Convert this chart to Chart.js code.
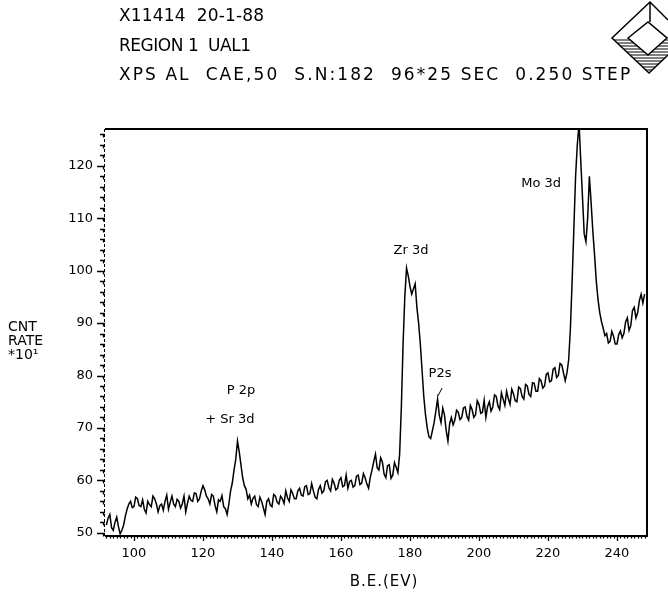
<!DOCTYPE html>
<html><head><meta charset="utf-8">
<script src="https://cdn.jsdelivr.net/npm/chart.js@4/dist/chart.umd.min.js"></script>
<style>html,body{margin:0;padding:0;background:#fff}canvas{display:block}</style>
</head><body>
<canvas id="c" width="668" height="594" style="width:668px;height:594px"></canvas>
<script>
// ---- data ----
const E_START = 92, E_STEP = 0.5;        // binding energy grid (eV)
const counts = [                          // count rate x10, every 0.5 eV from 92 to 248
  51.5,52.8, 53.5,51, 50.5,52, 53,51.2, 49.8,50.5,
  51.5,53.2, 54.5,55.5, 56,54.8, 55,56.8, 56.5,55.2,
  55,56.3, 54.5,53.8, 56,55.4, 55,57, 56.5,55.5,
  54,55.2, 55.5,54.3, 56,57.2, 54.5,55.8, 57,55.5,
  55,56.4, 56,54.7, 55.5,57, 54,55.6, 57,56.2,
  56,57.6, 57.5,56, 56.5,58, 59,58.2, 57,56.5,
  55.5,57.3, 57,55.2, 54,56.3, 56,57.1, 55,54.6,
  53.5,55.5, 58,59.5, 62,64, 67.5,65.5, 63,60.5,
  59,58.3, 56.5,57.2, 55.5,56.6, 57,55.4, 55,56.8,
  56,54.8, 53.5,56, 56.5,55.3, 55,57.3, 57,55.8,
  55.5,57, 56.5,55.6, 58,56.7, 56,58.2, 57.5,56.5,
  56.5,58, 58.5,57.2, 57,58.8, 59,57.3, 57.5,59.4,
  58,56.8, 56.5,58.3, 59,57.6, 58,59.7, 60,58.6,
  58,60.2, 59.5,58.2, 58.5,60, 60.5,58.8, 59,61,
  58.5,59.8, 60,58.7, 59,60.8, 61,59.2, 59.5,61.3,
  60.5,59.3, 58.5,60.6, 62,63.6, 65,62.4, 62,64.3,
  63.5,61.2, 60.5,62.8, 63,60.4, 61,63.4, 62.5,61.5,
  65,74, 86,95, 100.5,99, 97,95.5, 96.5,97.5,
  93,90, 86,81, 76,72.5, 70,68.3, 68,69.5,
  71,73.2, 75.5,72.4, 71,73.8, 72.5,69.5, 67.5,70.8,
  72,70.6, 71.5,73.4, 73,71.6, 72,73.8, 74,72.2,
  71.5,74.3, 73.5,72, 72.5,75.2, 74.5,72.8, 73,75.3,
  72,74.1, 75,73.2, 74,76.3, 76,74.2, 73.5,76.7,
  75.5,74.3, 77,75.6, 74.5,77.4, 76.5,75.2, 75,77.8,
  77.5,76, 75.5,78.3, 78,76.4, 76,78.6, 78.5,77,
  77,79.4, 79,77.6, 78,80.2, 80.5,78.8, 79,81.2,
  81.5,79.6, 80,82.3, 82,80.5, 79,80.5, 83,89,
  98,108, 118,124, 128,121, 114,107, 105.5,110,
  118,113, 107.5,103, 98,94.5, 92,90.3, 89,87.6,
  88,86.2, 86.5,88.4, 87.5,86, 86,87.8, 88.5,87.2,
  88,90.2, 91,88.6, 89.5,92.4, 93,91, 92,94.3,
  95.5,93.8, 95.5
];
const xTickLabels = [100,120,140,160,180,200,220,240];
const yTickLabels = [50,60,70,80,90,100,110,120];
const headerLines = ["X11414  20-1-88", "REGION 1  UAL1", "XPS AL  CAE,50  S.N:182  96*25 SEC  0.250 STEP"];
const peakNames = ["Mo 3d", "Zr 3d", "P2s", "P 2p", "+ Sr 3d"];
const peakAtEV  = [218, 180.3, 188.7, 131, 127.8];
const peakAtCnt = [116.5, 103.9, 80.3, 77.2, 71.5];
const xTitle = "B.E.(EV)";
const yTitle = ["CNT", "RATE", "*10¹"];

const points = counts.map((v, i) => ({ x: E_START + i * E_STEP, y: v }));

const FONT = '"DejaVu Sans", sans-serif';

const deco = {
  id: 'deco',
  beforeDraw(chart) {
    const ctx = chart.ctx;
    ctx.save(); ctx.fillStyle = '#fff'; ctx.fillRect(0, 0, chart.width, chart.height); ctx.restore();
  },
  afterDraw(chart) {
    const { ctx, chartArea: a, scales: { x, y } } = chart;
    ctx.save();
    ctx.strokeStyle = '#000'; ctx.fillStyle = '#000';
    // frame
    ctx.lineWidth = 2;
    ctx.beginPath();
    ctx.moveTo(a.left, a.top); ctx.lineTo(a.right, a.top); ctx.lineTo(a.right, a.bottom); ctx.lineTo(a.left, a.bottom);
    ctx.stroke();
    ctx.lineWidth = 1;
    ctx.setLineDash([3, 2]);
    ctx.beginPath(); ctx.moveTo(a.left - 0.5, a.top); ctx.lineTo(a.left - 0.5, a.bottom); ctx.stroke();
    ctx.setLineDash([]);
    // y ticks
    ctx.lineWidth = 1.3;
    ctx.beginPath();
    for (let v = 50; v <= 126; v += 2) {
      const py = Math.round(y.getPixelForValue(v)) + 0.5;
      const len = v % 10 === 0 ? 8 : 5;
      ctx.moveTo(a.left, py); ctx.lineTo(a.left - len, py);
      ctx.moveTo(a.left - 1.5, py); ctx.lineTo(a.left - 1.5, py + 3);
    }
    ctx.stroke();
    // x ticks
    ctx.beginPath();
    for (let e = 92; e <= 248; e++) {
      const px = Math.round(x.getPixelForValue(e)) + 0.5;
      const len = e % 20 === 0 ? 5 : 2.5;
      ctx.moveTo(px, a.bottom); ctx.lineTo(px, a.bottom + len);
    }
    ctx.stroke();
    // peak labels
    ctx.font = '13px ' + FONT;
    ctx.textAlign = 'center'; ctx.textBaseline = 'middle';
    peakNames.forEach((t, i) => {
      ctx.fillText(t, x.getPixelForValue(peakAtEV[i]), y.getPixelForValue(peakAtCnt[i]));
    });
    // P2s pointer
    ctx.lineWidth = 1;
    ctx.beginPath();
    ctx.moveTo(x.getPixelForValue(188.1), y.getPixelForValue(76.1));
    ctx.lineTo(x.getPixelForValue(189.3), y.getPixelForValue(77.6));
    ctx.stroke();
    // header
    ctx.font = '17px ' + FONT;
    ctx.textAlign = 'left'; ctx.textBaseline = 'middle';
    const targets = [145, 132, 511];
    const ys = [17, 47, 76];
    headerLines.forEach((t, i) => {
      ctx.letterSpacing = '0px';
      const w = ctx.measureText(t).width;
      const ls = (targets[i] - w) / (t.length - 1);
      ctx.letterSpacing = ls.toFixed(2) + 'px';
      ctx.fillText(t, 119, ys[i]);
    });
    ctx.letterSpacing = '0px';
    // axis titles
    ctx.font = '15px ' + FONT;
    ctx.textAlign = 'center';
    ctx.letterSpacing = '1px';
    ctx.fillText(xTitle, (a.left + a.right) / 2 + 8, 582);
    ctx.font = '14px ' + FONT;
    ctx.textAlign = 'left';
    ctx.letterSpacing = '0px';
    yTitle.forEach((t, i) => ctx.fillText(t, 8, 327 + i * 14));
    // logo
    ctx.lineWidth = 1.5;
    ctx.beginPath();
    ctx.moveTo(668, 20); ctx.lineTo(650, 2); ctx.lineTo(612, 38); ctx.lineTo(649, 73); ctx.lineTo(668, 55);
    ctx.moveTo(650, 2); ctx.lineTo(650, 22);
    ctx.moveTo(628, 38); ctx.lineTo(648, 22); ctx.lineTo(667, 38); ctx.lineTo(648, 55); ctx.closePath();
    ctx.stroke();
    ctx.lineWidth = 1.2;
    ctx.beginPath();
    for (let yy = 40; yy <= 71; yy += 3) {
      const d = yy - 38;
      const ol = 612 + d * 37 / 35;
      const orr = Math.min(668, 686 - d * 37 / 35);
      if (yy < 55) {
        const il = 628 + d * 20 / 17, ir = 667 - d * 19 / 17;
        ctx.moveTo(ol, yy); ctx.lineTo(il, yy);
        ctx.moveTo(ir, yy); ctx.lineTo(orr, yy);
      } else {
        ctx.moveTo(ol, yy); ctx.lineTo(orr, yy);
      }
    }
    ctx.stroke();
    ctx.restore();
  }
};

new Chart(document.getElementById('c'), {
  type: 'line',
  data: {
    datasets: [{
      data: points,
      borderColor: '#000',
      borderWidth: 1.5,
      pointRadius: 0,
      tension: 0,
      fill: false
    }]
  },
  options: {
    responsive: false,
    animation: false,
    devicePixelRatio: 1,
    layout: { padding: { top: 129, right: 21, left: 0, bottom: 0 } },
    plugins: { legend: { display: false }, tooltip: { enabled: false }, title: { display: false } },
    scales: {
      x: {
        type: 'linear', min: 91.6, max: 248.7,
        grid: { display: false, drawTicks: false }, border: { display: false },
        afterBuildTicks: s => { s.ticks = xTickLabels.map(v => ({ value: v })); },
        afterFit: s => { s.height = 58; },
        ticks: { color: '#000', font: { family: FONT, size: 13 }, padding: 10, maxRotation: 0, autoSkip: false }
      },
      y: {
        type: 'linear', min: 49.4, max: 127,
        grid: { display: false, drawTicks: false }, border: { display: false },
        afterBuildTicks: s => { s.ticks = yTickLabels.map(v => ({ value: v })); },
        afterFit: s => { s.width = 105; },
        ticks: { color: '#000', font: { family: FONT, size: 13 }, padding: 12, autoSkip: false }
      }
    }
  },
  plugins: [deco]
});
</script>
</body></html>
